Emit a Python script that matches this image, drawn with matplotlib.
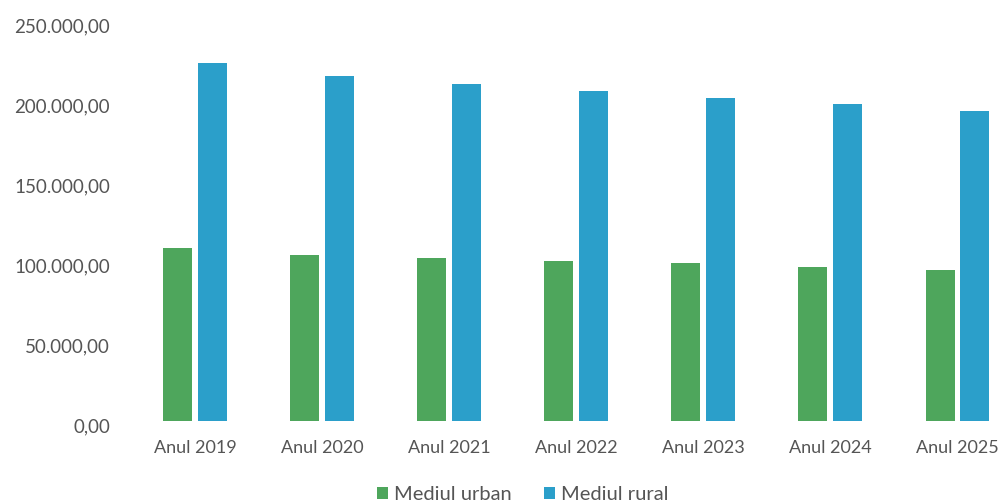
import matplotlib
matplotlib.use("Agg")
import matplotlib.pyplot as plt
from matplotlib.ticker import FuncFormatter
from matplotlib.transforms import ScaledTranslation
import numpy as np

categories = ["Anul 2019", "Anul 2020", "Anul 2021", "Anul 2022", "Anul 2023", "Anul 2024", "Anul 2025"]
urban = [108000, 104000, 102000, 100300, 98500, 96500, 94500]
rural = [223500, 215500, 210500, 206000, 202000, 198000, 193500]
series_names = ["Mediul urban", "Mediul rural"]
yticks = [0, 50000, 100000, 150000, 200000, 250000]

green = "#4ea65c"
blue = "#2b9fca"

plt.rcParams['font.family'] = ['Lato', 'DejaVu Sans']

fig = plt.figure(figsize=(10.01, 5.04), dpi=100)
ax = fig.add_axes([131.5/1001, 1 - 421/504, 1 - 131.5/1001, (421 - 21)/504])

x = np.arange(len(categories))
w = 0.228
ax.bar(x - 0.138, urban, width=w, color=green, label=series_names[0])
ax.bar(x + 0.136, rural, width=w, color=blue, label=series_names[1])

ax.set_xlim(-0.5, (1001 - 195) / 127.1)
ax.set_ylim(0, 250000)
ax.set_yticks(yticks)

def fmt(v, pos):
    s = f"{int(v):,}".replace(",", ".")
    return s + ",00"
ax.yaxis.set_major_formatter(FuncFormatter(fmt))
ax.set_xticks(x)
ax.set_xticklabels(categories)

for s in ax.spines.values():
    s.set_visible(False)
ax.tick_params(axis='both', length=0, colors="#555555")
ax.tick_params(axis='y', pad=15.5, labelsize=13.5)
ax.tick_params(axis='x', pad=14, labelsize=13)
off = ScaledTranslation(0, -4/100, fig.dpi_scale_trans)
for lbl in ax.get_yticklabels():
    lbl.set_transform(lbl.get_transform() + off)

leg = fig.legend(loc='center', bbox_to_anchor=(523/1001, 1 - 495/504), ncol=2, frameon=False,
                 fontsize=14.5, handlelength=0.55, handleheight=0.55, handletextpad=0.3, columnspacing=1.6,
                 labelcolor="#555555", borderpad=0)

fig.savefig("out.png", dpi=100, facecolor="white")
